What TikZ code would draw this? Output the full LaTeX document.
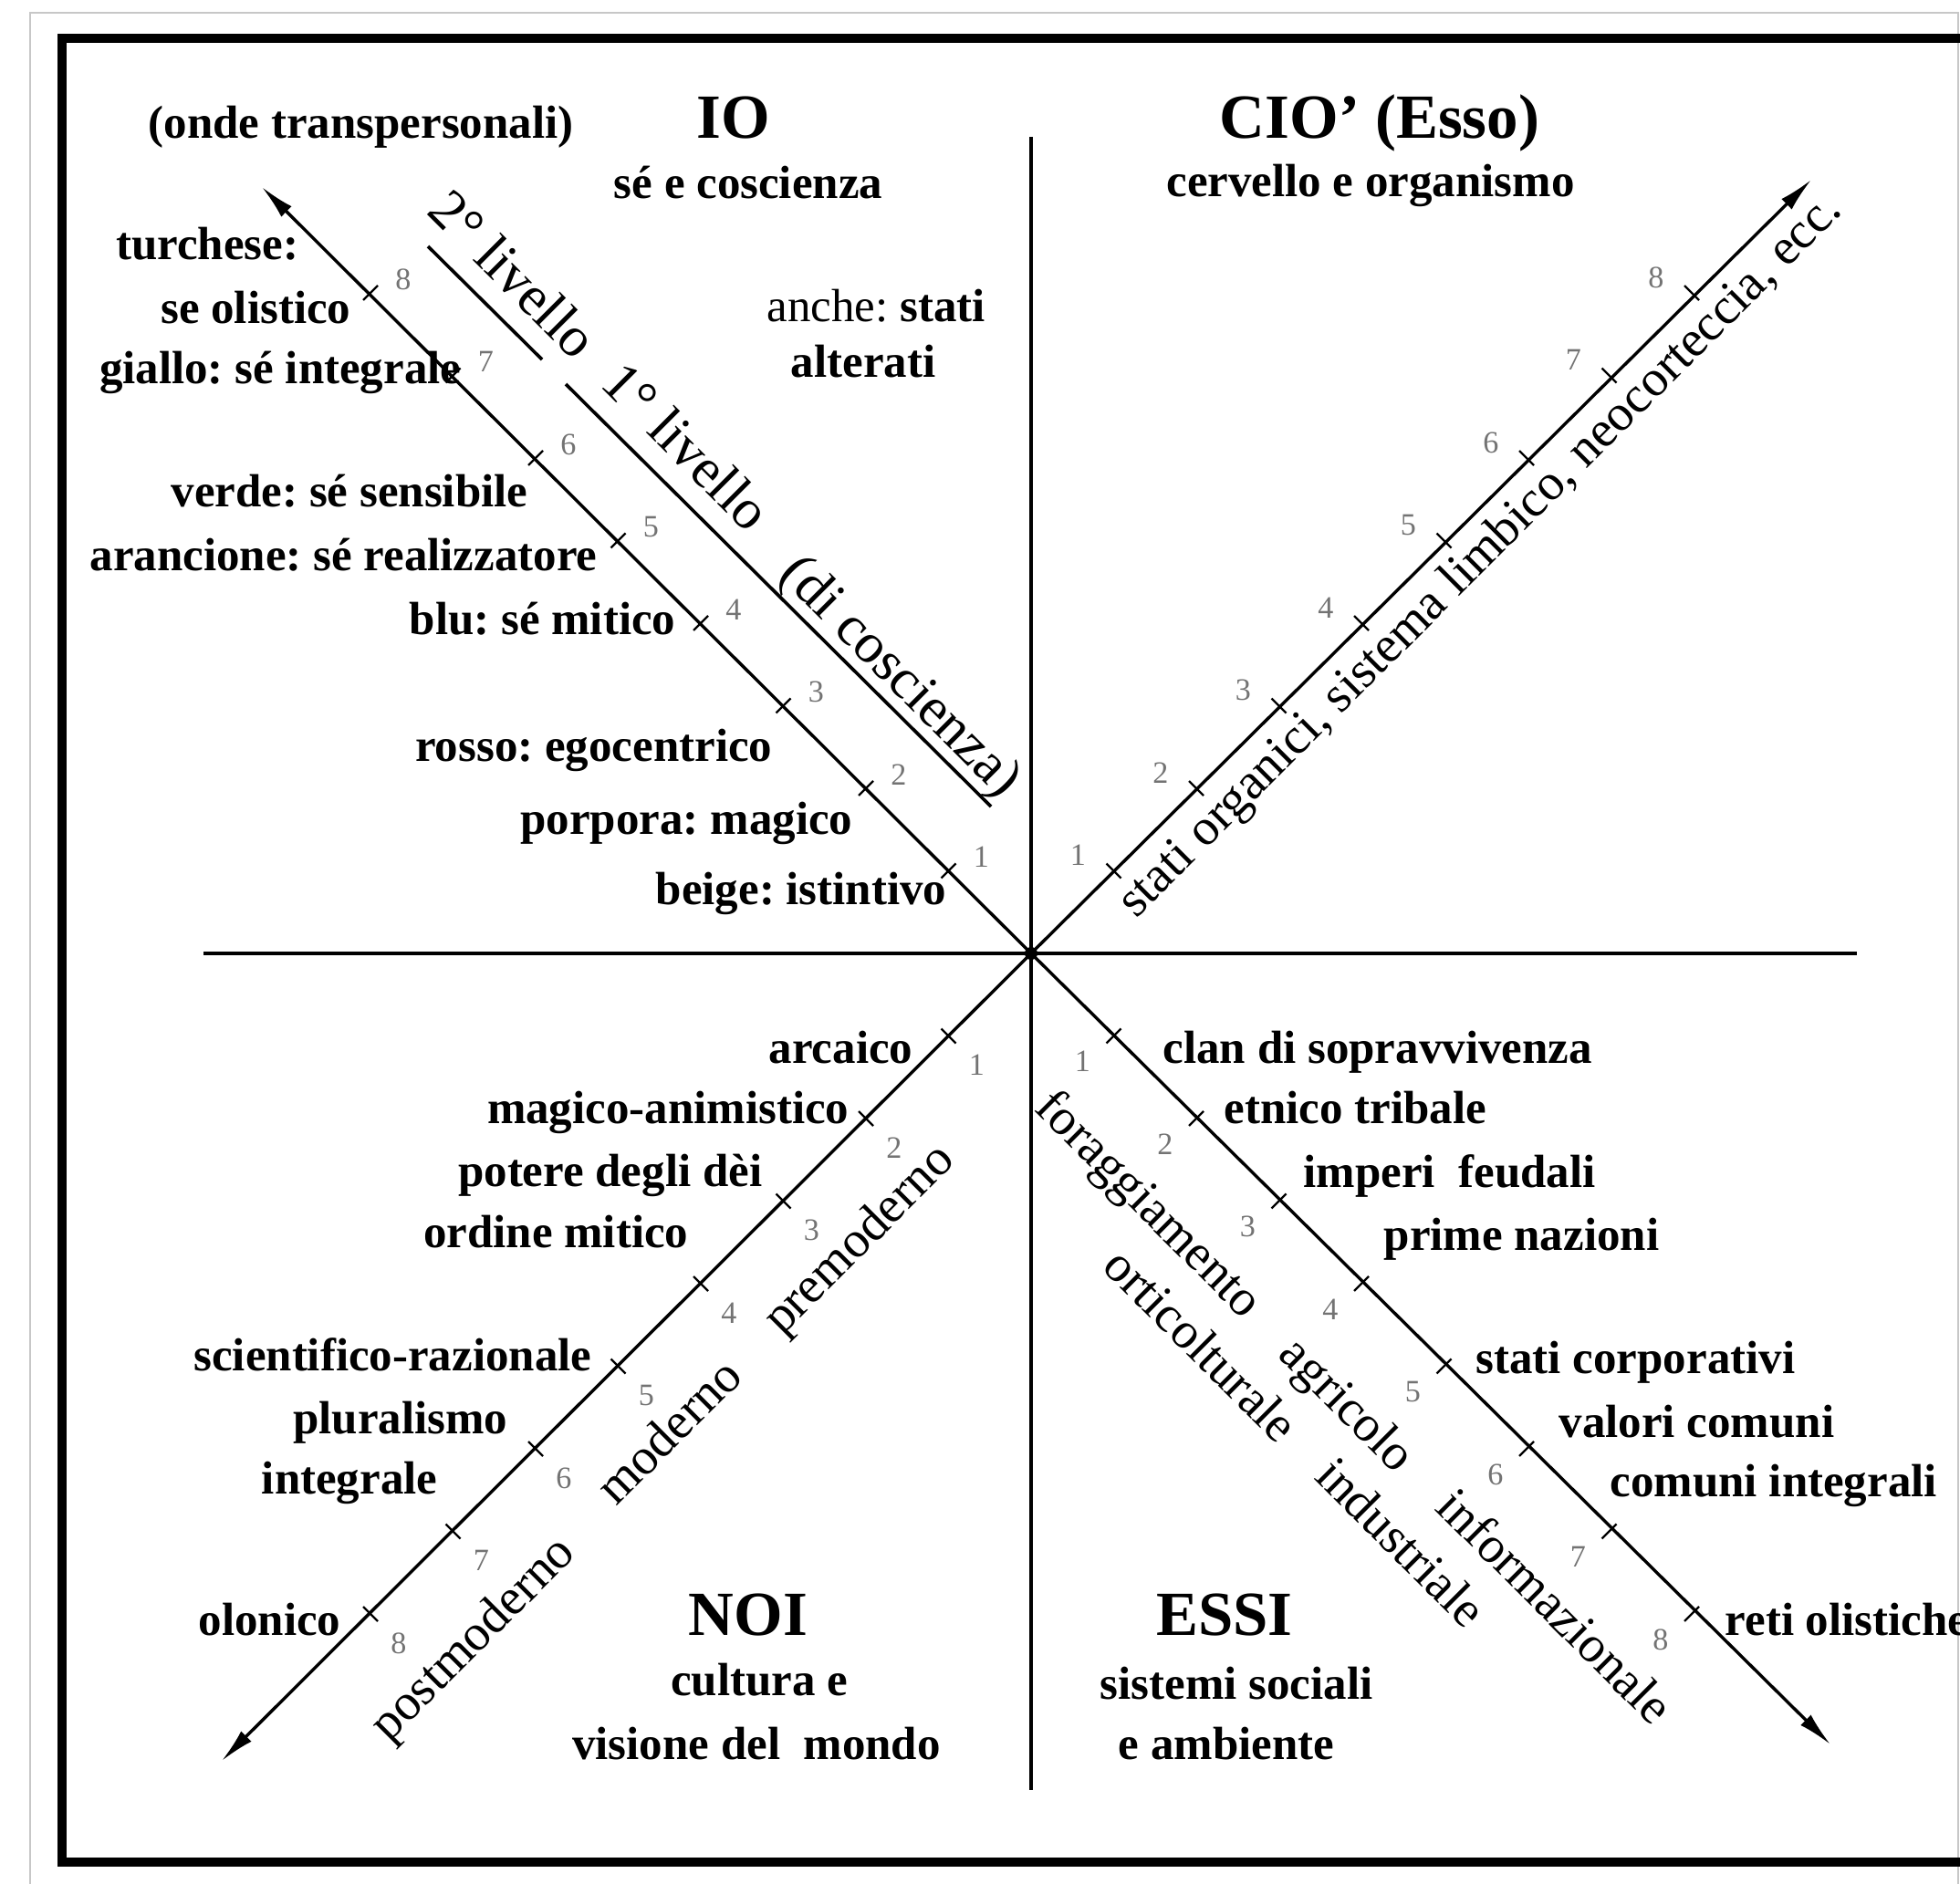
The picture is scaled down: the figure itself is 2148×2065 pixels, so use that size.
\documentclass[tikz,border=0pt]{standalone}
\usepackage{fontspec}
\setmainfont{Liberation Serif}
\usetikzlibrary{arrows.meta}
\frenchspacing
\begin{document}
\begin{tikzpicture}[x=0.1mm,y=-0.1mm,
  lbl/.style={font=\fontsize{14.5}{17}\selectfont\bfseries, inner sep=0pt},
  head/.style={font=\fontsize{19.6}{23}\selectfont\bfseries, inner sep=0pt},
  rot/.style={font=\fontsize{15.9}{19}\selectfont, inner sep=0pt},
  lev/.style={font=\fontsize{17.6}{21}\selectfont, inner sep=0pt},
  num/.style={font=\fontsize{9.7}{11}\selectfont, text=black!55, inner sep=0pt},
  axis/.style={line width=0.42mm},
  diag/.style={line width=0.34mm, -{Latex[length=3.8mm,width=1.6mm]}},
  brk/.style={line width=0.36mm},
  tk/.style={line width=0.22mm}
]
\useasboundingbox (0,0) rectangle (2148,2065);
\clip (0,0) rectangle (2148,2065);
\draw[black!22, line width=0.2mm] (33,14) rectangle (2146,2120);
\draw[line width=1mm] (68,42) rectangle (2250,2041);

% axes
\coordinate (c) at (1130,1045);
\coordinate (vt) at (1130,150);
\coordinate (vb) at (1130,1962);
\coordinate (hl) at (223,1045);
\coordinate (hr) at (2035,1045);
\coordinate (nw) at (287,205);
\coordinate (ne) at (1985,197);
\coordinate (sw) at (243,1930);
\coordinate (se) at (2006,1912);
\draw[axis] (vt) -- (vb);
\draw[axis] (hl) -- (hr);
\draw[diag] (c) -- (nw);
\draw[diag] (c) -- (ne);
\draw[diag] (c) -- (sw);
\draw[diag] (c) -- (se);
\fill (c) circle[radius=0.7mm];

% ticks and numbers
\foreach \k in {1,...,8}{
  \pgfmathsetmacro\d{90.5*\k}
  \draw[tk] ({1130-\d+8},{1045-\d-8}) -- ({1130-\d-8},{1045-\d+8});
  \draw[tk] ({1130+\d+8},{1045-\d+8}) -- ({1130+\d-8},{1045-\d-8});
  \draw[tk] ({1130-\d+8},{1045+\d+8}) -- ({1130-\d-8},{1045+\d-8});
  \draw[tk] ({1130+\d+8},{1045+\d-8}) -- ({1130+\d-8},{1045+\d+8});
  \node[num] at ({1130-\d+36},{1045-\d-15}) {\k};
  \node[num] at ({1130+\d-39},{1045-\d-17}) {\k};
  \node[num] at ({1130-\d+31},{1045+\d+32}) {\k};
  \node[num] at ({1130+\d-34},{1045+\d+28}) {\k};
}

% level brackets
\coordinate (b2a) at (469,270);
\coordinate (b2b) at (594,394);
\coordinate (b1a) at (620,421);
\coordinate (b1b) at (1086,884);
\draw[brk] (b2a) -- (b2b);
\draw[brk] (b1a) -- (b1b);
\node[lev, rotate=-45, anchor=base] (l2) at (548,315) {2° livello};
\node[lev, rotate=-45, anchor=base] (l1) at (738,504) {1° livello};
\node[lev, rotate=-45, anchor=base] (dc) at (975,754) {(di coscienza)};

% headings
\node[head, anchor=base] (io) at (804,152) {IO};
\node[head, anchor=base] (cio) at (1512,152) {CIO’ (Esso)};
\node[head, anchor=base] (noi) at (820,1792) {NOI};
\node[head, anchor=base] (essi) at (1342,1792) {ESSI};
\node[lbl, anchor=base] (io2) at (820,218) {sé e coscienza};
\node[lbl, anchor=base] (cio2) at (1502,216) {cervello e organismo};
\node[lbl, anchor=base] (noi2) at (832,1858) {cultura e};
\node[lbl, anchor=base] (noi3) at (829,1928) {visione del\ \ mondo};
\node[lbl, anchor=base] (essi2) at (1355,1862) {sistemi sociali};
\node[lbl, anchor=base] (essi3) at (1344,1928) {e ambiente};

% upper left
\node[lbl, anchor=base west] (onde) at (162,152) {(onde transpersonali)};
\node[lbl, anchor=base west] (anche) at (840,352) {{\mdseries anche:} stati};
\node[lbl, anchor=base] (alt) at (946,413) {alterati};
\node[lbl, anchor=base east] (t8) at (328,285) {turchese:};
\node[lbl, anchor=base east] (t8b) at (385,354) {se olistico};
\node[lbl, anchor=base east] (t7) at (506,421) {giallo: sé integrale};
\node[lbl, anchor=base east] (t6) at (579,555) {verde: sé sensibile};
\node[lbl, anchor=base east] (t5) at (655,625) {arancione: sé realizzatore};
\node[lbl, anchor=base east] (t4) at (741,695) {blu: sé mitico};
\node[lbl, anchor=base east] (t3) at (847,834) {rosso: egocentrico};
\node[lbl, anchor=base east] (t2) at (935,914) {porpora: magico};
\node[lbl, anchor=base east] (t1) at (1038,991) {beige: istintivo};

% upper right
\node[rot, rotate=45, anchor=base] (org) at (1633,620) {stati organici, sistema limbico, neocorteccia, ecc.};

% lower left
\node[lbl, anchor=base east] (s1) at (1001,1165) {arcaico};
\node[lbl, anchor=base east] (s2) at (931,1231) {magico-animistico};
\node[lbl, anchor=base east] (s3) at (836,1300) {potere degli dèi};
\node[lbl, anchor=base east] (s3b) at (755,1367) {ordine mitico};
\node[lbl, anchor=base east] (s5) at (649,1502) {scientifico-razionale};
\node[lbl, anchor=base east] (s6) at (557,1571) {pluralismo};
\node[lbl, anchor=base east] (s6b) at (480,1637) {integrale};
\node[lbl, anchor=base east] (s8) at (374,1792) {olonico};
\node[rot, rotate=45] (pre) at (943,1360) {premoderno};
\node[rot, rotate=45] (mod) at (732,1568) {moderno};
\node[rot, rotate=45] (post) at (520,1798) {postmoderno};

% lower right
\node[lbl, anchor=base west] (e1) at (1274,1165) {clan di sopravvivenza};
\node[lbl, anchor=base west] (e2) at (1341,1231) {etnico tribale};
\node[lbl, anchor=base west] (e3) at (1428,1301) {imperi\ \ feudali};
\node[lbl, anchor=base west] (e3b) at (1516,1370) {prime nazioni};
\node[lbl, anchor=base west] (e5) at (1617,1505) {stati corporativi};
\node[lbl, anchor=base west] (e6) at (1708,1575) {valori comuni};
\node[lbl, anchor=base west] (e7) at (1764,1640) {comuni integrali};
\node[lbl, anchor=base west] (e8) at (1890,1792) {reti olistiche};
\node[rot, rotate=-45] (fo) at (1257,1322) {foraggiamento};
\node[rot, rotate=-45] (or) at (1317,1474) {orticolturale};
\node[rot, rotate=-45] (ag) at (1474,1542) {agricolo};
\node[rot, rotate=-45] (in) at (1536,1690) {industriale};
\node[rot, rotate=-45] (inf) at (1705,1760) {informazionale};
\end{tikzpicture}
\end{document}
